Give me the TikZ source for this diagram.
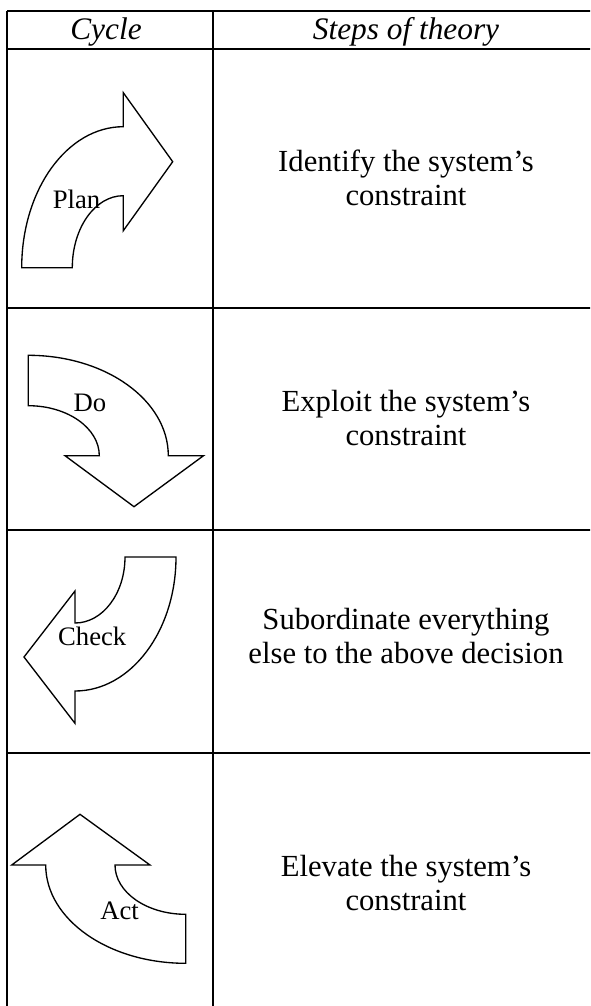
\documentclass[tikz,border=0pt]{standalone}
\usepackage{fontspec}
\setmainfont{Liberation Serif}
\usetikzlibrary{positioning}
\definecolor{inkblack}{RGB}{0,0,0}

\begin{document}
\begin{tikzpicture}[x=0.75pt,y=-0.75pt,
    grid/.style={line width=1.5pt,inkblack},
    cyclearrow/.style={draw=inkblack,line width=1pt,line join=miter,fill=white},
    headtext/.style={font=\fontsize{23.5}{25}\selectfont\itshape,anchor=base,inner sep=0pt},
    steptext/.style={font=\fontsize{23}{25}\selectfont,align=center,anchor=base,inner sep=0pt},
    cyclelabel/.style={font=\fontsize{20}{22}\selectfont,anchor=base,inner sep=0pt}]
        \useasboundingbox (0,0) rectangle (590,1006);
        \clip (0,0) rectangle (590,1006);

        % Table rules
        \draw[grid] (7,11) -- (620,11);
        \draw[grid] (7,49) -- (620,49);
        \draw[grid] (7,307.7) -- (620,307.7);
        \draw[grid] (7,530) -- (620,530);
        \draw[grid] (7,753) -- (620,753);
        \draw[grid] (7,11) -- (7,1030);
        \draw[grid] (213,11) -- (213,1030);

        % Header
        \node[headtext] (hdcycle) at (106,40) {Cycle};
        \node[headtext] (hdsteps) at (406,40) {Steps of theory};

        % Plan arrow
        \draw[cyclearrow] (21.7,267.7) arc[start angle=180,end angle=270,x radius=101.6,y radius=141]
            -- (123.3,92.7) -- (172.7,161.7) -- (123.3,230.7) -- (123.3,195.7)
            arc[start angle=270,end angle=180,x radius=51,y radius=72] -- cycle;

        % Do arrow
        \draw[cyclearrow] (28.3,355.3) arc[start angle=270,end angle=360,x radius=140,y radius=100.4]
            -- (203.5,455.7) -- (134,506.7) -- (65,455.7) -- (99.3,455.7)
            arc[start angle=0,end angle=-90,x radius=71,y radius=50] -- cycle;

        % Check arrow
        \draw[cyclearrow] (176,557) arc[start angle=0,end angle=90,x radius=101,y radius=134]
            -- (75,723.3) -- (24,657) -- (75,591) -- (75,623)
            arc[start angle=90,end angle=0,x radius=50,y radius=66] -- cycle;

        % Act arrow
        \draw[cyclearrow] (45.7,865) arc[start angle=180,end angle=90,x radius=140,y radius=98.3]
            -- (185.7,914.3) arc[start angle=90,end angle=180,x radius=70.7,y radius=49.3]
            -- (150,865) -- (80,814.3) -- (11.7,865) -- cycle;

        % Cycle labels
        \node[cyclelabel] (plan) at (76.5,208.3) {Plan};
        \node[cyclelabel] (do) at (90,411) {Do};
        \node[cyclelabel] (check) at (92.2,645) {Check};
        \node[cyclelabel] (act) at (119.5,919) {Act};

        % Steps (base = last line)
        \node[steptext] (identify) at (406,205) {Identify the system’s\\constraint};
        \node[steptext] (exploit) at (406,445) {Exploit the system’s\\constraint};
        \node[steptext] (subordinate) at (406,663.3) {Subordinate everything\\else to the above decision};
        \node[steptext] (elevate) at (406,910) {Elevate the system’s\\constraint};
\end{tikzpicture}
\end{document}
